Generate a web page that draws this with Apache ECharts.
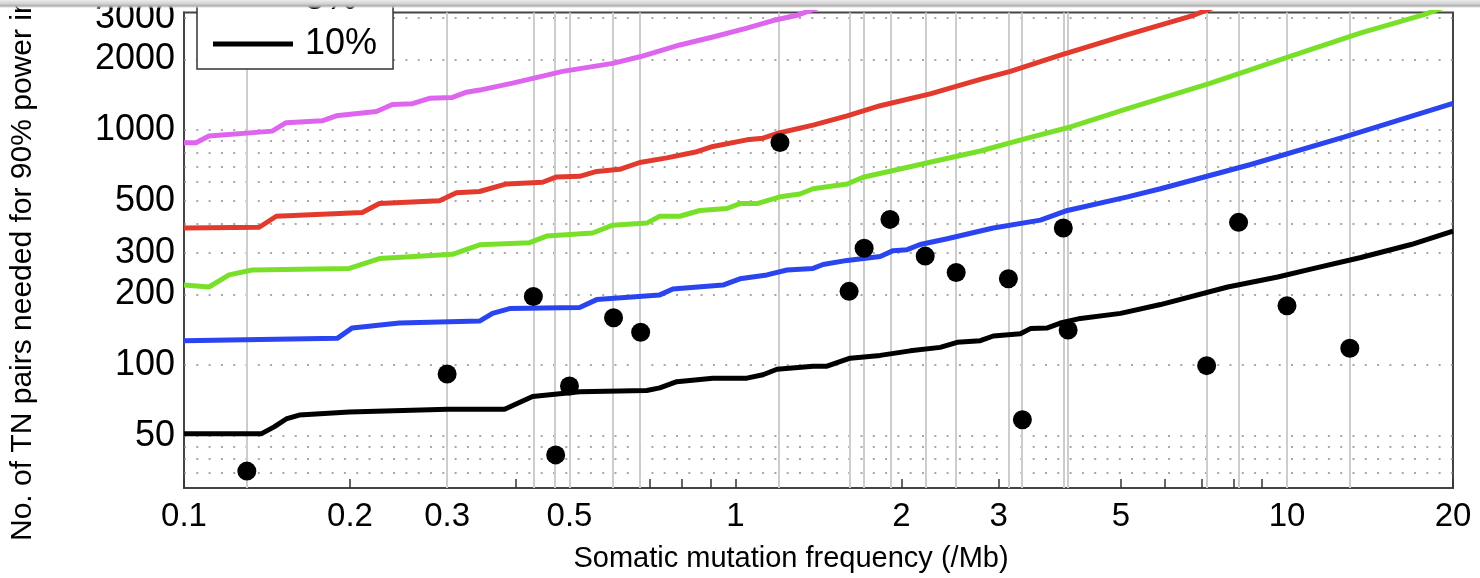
<!DOCTYPE html>
<html>
<head>
<meta charset="utf-8">
<script src="https://cdn.jsdelivr.net/npm/echarts@6/dist/echarts.min.js"></script>
<style>
html,body{margin:0;padding:0;background:#fff;}
#chart{width:1480px;height:578px;}
</style>
</head>
<body>
<div id="chart"></div>
<script>
// ---- data ----
const legendNames = ['1%', '2%', '3%', '5%', '10%'];
const xLabelValues = [0.1, 0.2, 0.3, 0.5, 1, 2, 3, 5, 10, 20];
const xTickValues = [0.1, 0.2, 0.3, 0.4, 0.5, 0.6, 0.7, 0.8, 0.9, 1, 2, 3, 4, 5, 6, 7, 8, 9, 10, 20];
const yLabelValues = [50, 100, 200, 300, 500, 1000, 2000, 3000];
const yGridValues = [35, 40, 45, 50, 100, 200, 300, 400, 500, 600, 700, 800, 900, 1000, 2000, 3000];

const curve1pct = [[0.1,883],[0.1051,883],[0.111,943],[0.1445,990],[0.1532,1076],[0.178,1095],[0.1888,1150],[0.2233,1200],[0.2387,1285],[0.2595,1296],[0.2786,1365],[0.3067,1377],[0.3252,1450],[0.3435,1480],[0.3943,1585],[0.4469,1698],[0.4859,1778],[0.5988,1923],[0.6706,2051],[0.7926,2303],[0.9101,2489],[1.0488,2714],[1.1693,2926],[1.2929,3080],[1.5,3500]];
const curve2pct = [[0.1,383],[0.1369,386],[0.147,430],[0.2105,446],[0.2261,487],[0.2905,500],[0.3119,541],[0.3435,548],[0.3845,590],[0.4469,600],[0.4739,632],[0.5216,636],[0.5602,667],[0.6166,681],[0.6706,728],[0.7507,762],[0.8511,809],[0.9101,852],[1.0488,909],[1.1215,924],[1.2041,975],[1.3823,1050],[1.5937,1150],[1.8296,1270],[2.2543,1426],[2.7793,1643],[3.1507,1778],[3.8829,2086],[5.1398,2550],[6.7718,3080],[8,3600]];
const curve3pct = [[0.1,219],[0.111,215],[0.1207,242],[0.1329,254],[0.1994,258],[0.2261,284],[0.3067,296],[0.3435,325],[0.4233,332],[0.4545,354],[0.5508,365],[0.5988,394],[0.6905,402],[0.729,430],[0.7926,430],[0.8618,455],[0.9647,464],[1.0186,487],[1.0937,487],[1.2041,520],[1.3092,535],[1.3823,563],[1.5937,590],[1.7033,630],[2.7793,815],[3.3829,924],[3.9982,1023],[5.1398,1233],[7.2713,1585],[10.289,2086],[13.614,2595],[17.726,3100],[20,3450]];
const curve5pct = [[0.1,127],[0.1896,130],[0.2019,144],[0.2458,151],[0.3435,154],[0.3626,166],[0.3894,174],[0.5216,176],[0.5602,190],[0.729,199],[0.7698,211],[0.9487,219],[1.0186,233],[1.1402,242],[1.2399,254],[1.3823,258],[1.4412,268],[1.5937,279],[1.8296,290],[1.9317,307],[2.0478,310],[2.1619,326],[2.4202,345],[2.7793,372],[2.9344,383],[3.5723,414],[3.9982,455],[5.1398,520],[5.8979,563],[8.596,714],[12.681,934],[20,1300]];
const curve10pct = [[0.1,51],[0.138,51],[0.1457,54.6],[0.1532,59],[0.1618,61.3],[0.1994,63.1],[0.3004,64.9],[0.3813,64.9],[0.4286,73.6],[0.5216,77],[0.6905,78],[0.729,80],[0.7828,85],[0.9101,88],[1.0488,88],[1.1215,91],[1.1891,96],[1.3823,99],[1.4656,99],[1.6137,107],[1.8296,110],[2.0736,115],[2.3504,119],[2.5236,125],[2.7793,127],[2.9344,133],[3.2853,136],[3.4259,143],[3.6783,144],[3.8829,151],[4.2217,158],[4.9918,166],[5.8979,181],[7.807,215],[9.6226,237],[11.046,256],[13.614,287],[16.79,326],[20,372]];

const tumorX = [0.13, 0.30, 0.43, 0.472, 0.50, 0.601, 0.673, 1.204, 1.607, 1.711, 1.906, 2.208, 2.513, 3.125, 3.313, 3.93, 4.01, 7.15, 8.17, 10.0, 13.0];
const tumorY = [35.4, 91.7, 196, 41.5, 81.5, 159, 138, 886, 206, 314, 417, 291, 248, 233, 58.6, 383, 141, 99.5, 405, 179, 118];

const curveColors = ['#de66ef', '#e23b2e', '#79e02a', '#2a45ef', '#000000'];
const FONT = 'Liberation Sans, Arial, Helvetica, sans-serif';

// ---- chart ----
const chart = echarts.init(document.getElementById('chart'), null, {renderer: 'canvas'});
const curves = [curve1pct, curve2pct, curve3pct, curve5pct, curve10pct];

const series = [];
series.push({
  name: 'grid', type: 'line', data: [], silent: true, z: 1,
  markLine: {
    silent: true, symbol: ['none', 'none'], z: 1, animation: false,
    label: {show: false},
    data: yGridValues.map(v => ({yAxis: v, lineStyle: {type: [2, 10.3], color: '#8a8a8a', width: 1.5}}))
      .concat(tumorX.map(v => ({xAxis: v, lineStyle: {type: 'solid', color: '#cdcdcd', width: 2}})))
  }
});
curves.forEach((c, i) => {
  series.push({
    name: legendNames[i], type: 'line', data: c, symbol: 'none', showSymbol: false,
    lineStyle: {width: 5, color: curveColors[i]}, itemStyle: {color: curveColors[i]},
    z: 3, clip: true
  });
});
series.push({
  name: 'tumor types', type: 'scatter', data: tumorX.map((x, i) => [x, tumorY[i]]),
  symbol: 'circle', symbolSize: 19, itemStyle: {color: '#000', opacity: 1}, z: 5
});

chart.setOption({
  animation: false,
  backgroundColor: '#fff',
  textStyle: {fontFamily: FONT},
  grid: {left: 184, right: 27, top: 4, bottom: 88, show: true, borderColor: '#444', borderWidth: 2, backgroundColor: 'transparent'},
  legend: {
    data: legendNames, orient: 'vertical', left: 197, top: -160, height: 400,
    itemWidth: 80, itemHeight: 5, itemGap: 9, padding: [6, 16, 7, 16],
    backgroundColor: '#fff', borderColor: '#333', borderWidth: 1.5, borderRadius: 0,
    textStyle: {fontSize: 36, color: '#000', fontFamily: FONT, padding: [0, 0, 0, 7]},
    selectedMode: false, icon: 'rect'
  },
  xAxis: {
    type: 'log', logBase: 10, min: 0.1, max: 20,
    axisLine: {show: true, onZero: false, lineStyle: {color: '#444', width: 2}},
    axisTick: {show: true, inside: true, length: 9, customValues: xTickValues, lineStyle: {color: '#333', width: 1.5}},
    axisLabel: {show: true, customValues: xLabelValues, margin: 12, fontSize: 33, color: '#000', fontFamily: FONT, formatter: v => String(v)},
    splitLine: {show: false}, minorTick: {show: false}, minorSplitLine: {show: false},
    name: 'Somatic mutation frequency (/Mb)', nameLocation: 'middle', nameGap: 56,
    nameTextStyle: {fontSize: 29, color: '#000', fontFamily: FONT, padding: [0, 55, 0, 0]}
  },
  yAxis: {
    type: 'log', logBase: 10, min: 30, max: 3162.28,
    axisLine: {show: true, onZero: false, lineStyle: {color: '#444', width: 2}},
    axisTick: {show: false},
    axisLabel: {show: true, customValues: yLabelValues, margin: 9, fontSize: 36, color: '#000', fontFamily: FONT, formatter: v => String(v)},
    splitLine: {show: false}, minorTick: {show: false}, minorSplitLine: {show: false}
  },
  graphic: [
    {
      type: 'text', x: 23, y: 541, rotation: Math.PI / 2, z: 50,
      style: {text: 'No. of TN pairs needed for 90% power in', fontSize: 30, fontFamily: FONT, fill: '#000', align: 'left', verticalAlign: 'middle'}
    },
    {
      type: 'rect', shape: {x: 0, y: 0, width: 1480, height: 8}, z: 100, silent: true,
      style: {fill: new echarts.graphic.LinearGradient(0, 0, 0, 1, [
        {offset: 0, color: '#ececec'}, {offset: 0.5, color: '#d0d0d0'}, {offset: 0.75, color: '#aaaaaa'},
        {offset: 1, color: 'rgba(230,230,230,0.3)'}
      ])}
    }
  ],
  series: series
});
</script>
</body>
</html>
